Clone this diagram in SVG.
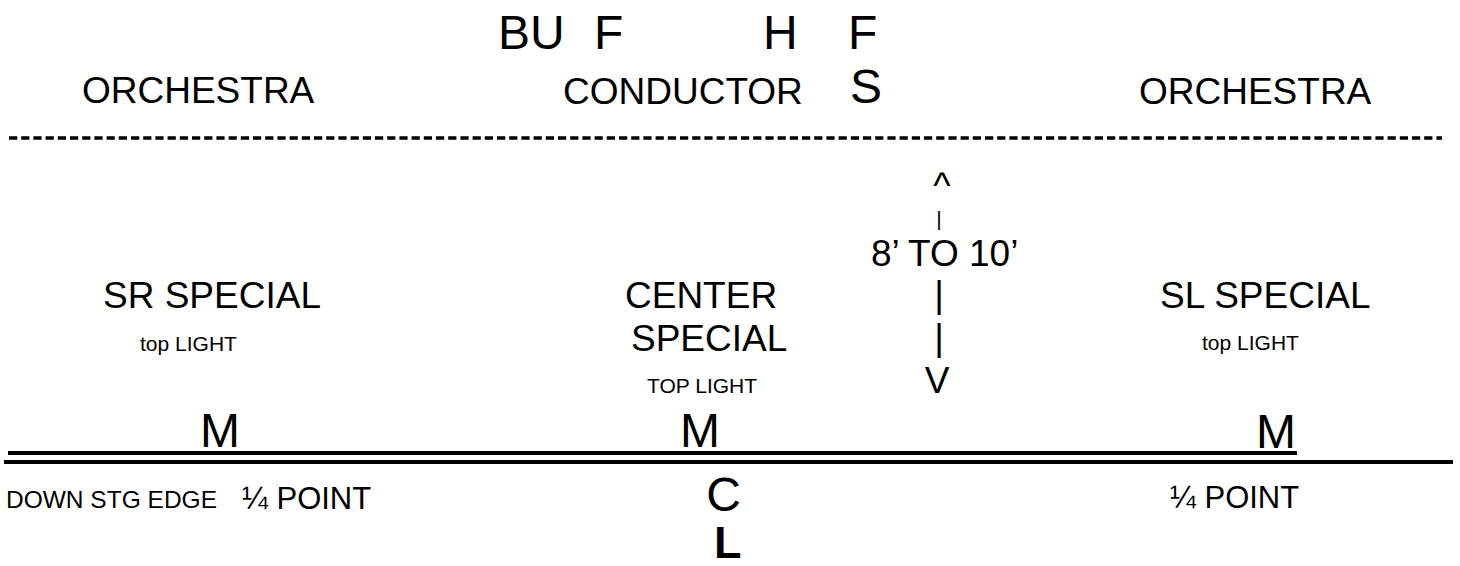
<svg xmlns="http://www.w3.org/2000/svg" width="1460" height="566" viewBox="0 0 1460 566">
<style>
text{font-family:"Liberation Sans",Arial,sans-serif;fill:#000}
.xl{font-size:48px}
.md{font-size:37px}
.qp{font-size:31px}
.sm{font-size:21px}
.ds{font-size:24.5px}
.b{font-weight:bold;font-size:45px}
.c{text-anchor:middle}
.ln{stroke:#000;fill:none}
</style>
<rect width="1460" height="566" fill="#fff"/>
<g id="lines">
<line class="ln" x1="9" y1="138" x2="1442" y2="138" stroke-width="3.5" stroke-dasharray="8.2 4"/>
<line class="ln" x1="8" y1="453" x2="1297" y2="453" stroke-width="4"/>
<line class="ln" x1="4" y1="462" x2="1453" y2="462" stroke-width="4"/>
</g>
<g id="top-letters">
<text class="xl" x="498" y="49">BU</text>
<text class="xl" x="594" y="49">F</text>
<text class="xl" x="763" y="49">H</text>
<text class="xl" x="848" y="49">F</text>
<text class="xl" x="850" y="103">S</text>
</g>
<g id="orchestra-left"><text class="md" x="82" y="103">ORCHESTRA</text></g>
<g id="conductor"><text class="md" x="563" y="104">CONDUCTOR</text></g>
<g id="orchestra-right"><text class="md" x="1139" y="104">ORCHESTRA</text></g>
<g id="distance">
<text class="md c" x="942" y="198">^</text>
<text class="sm c" x="939" y="226">|</text>
<text class="md" x="871" y="266">8’ TO 10’</text>
<text class="md c" x="939" y="307">|</text>
<text class="md c" x="939" y="350">|</text>
<text class="md c" x="937" y="393">V</text>
</g>
<g id="sr-special">
<text class="md" x="103" y="308">SR SPECIAL</text>
<text class="sm" x="140" y="351">top LIGHT</text>
<text class="xl c" x="220" y="447">M</text>
</g>
<g id="center-special">
<text class="md" x="625" y="308">CENTER</text>
<text class="md" x="631" y="351">SPECIAL</text>
<text class="sm" x="647" y="393">TOP LIGHT</text>
<text class="xl c" x="700" y="447">M</text>
</g>
<g id="sl-special">
<text class="md" x="1160" y="308">SL SPECIAL</text>
<text class="sm" x="1202" y="350">top LIGHT</text>
<text class="xl c" x="1276" y="448">M</text>
</g>
<g id="down-stage">
<text class="ds" x="6" y="508">DOWN STG EDGE</text>
<text class="qp" x="242" y="509">¼ POINT</text>
<text class="qp" x="1170" y="508">¼ POINT</text>
</g>
<g id="centerline">
<text class="xl c" x="723.5" y="511">C</text>
<text class="b" x="714" y="558">L</text>
</g>
</svg>
